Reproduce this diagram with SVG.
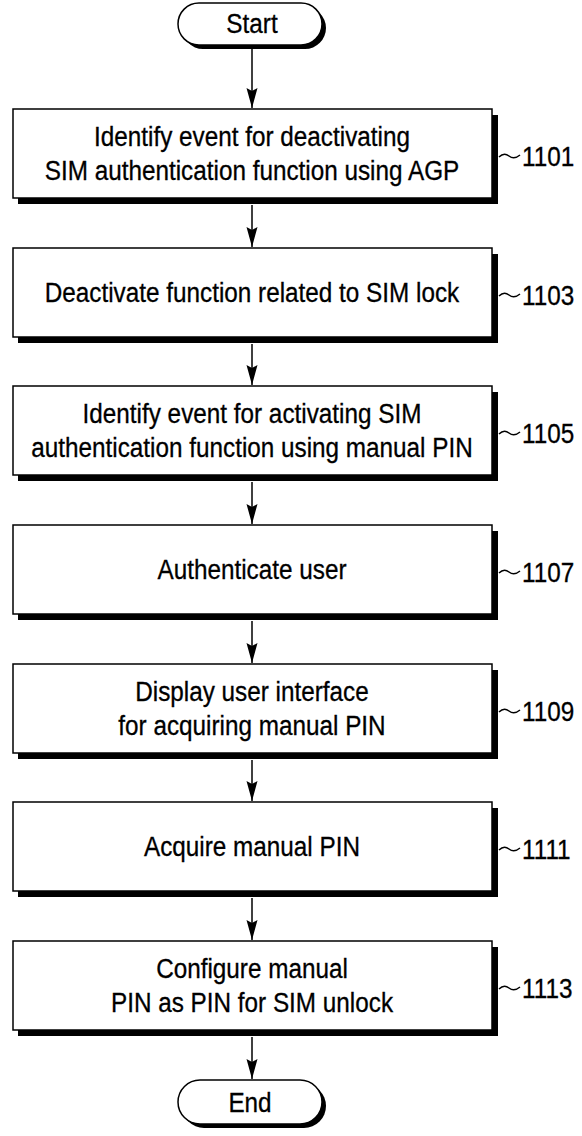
<svg xmlns="http://www.w3.org/2000/svg" width="582" height="1136" viewBox="0 0 582 1136">
<defs>
<style>
.box{fill:#fff;stroke:#000;stroke-width:1.5}
.sh{fill:#000}
.t{font-family:"Liberation Sans",Arial,sans-serif;font-size:27px;fill:#000;stroke:#000;stroke-width:0.3;text-anchor:middle;transform-box:fill-box;transform-origin:center;transform:scaleX(0.9)}
.lbl{font-family:"Liberation Sans",Arial,sans-serif;font-size:27px;fill:#000;stroke:#000;stroke-width:0.3;transform-box:fill-box;transform-origin:left;transform:scaleX(0.9)}
.ln{stroke:#000;stroke-width:1.5;fill:none}
</style>
<marker id="ah" markerWidth="20" markerHeight="12" refX="20" refY="6" orient="auto" markerUnits="userSpaceOnUse" viewBox="0 0 20 12">
<path d="M0,0.5 L20,6 L0,11.5 L3,6 Z" fill="#000"/>
</marker>
</defs>
<g id="connectors">
<line class="ln" x1="252" y1="48" x2="252" y2="108" marker-end="url(#ah)"/>
<line class="ln" x1="252" y1="205" x2="252" y2="247" marker-end="url(#ah)"/>
<line class="ln" x1="252" y1="344" x2="252" y2="385" marker-end="url(#ah)"/>
<line class="ln" x1="252" y1="482" x2="252" y2="524" marker-end="url(#ah)"/>
<line class="ln" x1="252" y1="621" x2="252" y2="663" marker-end="url(#ah)"/>
<line class="ln" x1="252" y1="760" x2="252" y2="801" marker-end="url(#ah)"/>
<line class="ln" x1="252" y1="898" x2="252" y2="940" marker-end="url(#ah)"/>
<line class="ln" x1="252" y1="1037" x2="252" y2="1079" marker-end="url(#ah)"/>
</g>
<g id="start">
<rect class="sh" x="182" y="7" width="144" height="42" rx="21"/>
<rect class="box" x="178" y="3" width="144" height="42" rx="21"/>
<text class="t" x="252" y="33">Start</text>
</g>
<g id="n1101">
<rect class="sh" x="18" y="115" width="480" height="89"/>
<rect class="box" x="13" y="109" width="479" height="89"/>
<text class="t" x="252" y="146">Identify event for deactivating</text>
<text class="t" x="252" y="180">SIM authentication function using AGP</text>
<path class="ln" d="M499,157 q5,-5 10,-1 t11,-1"/>
<text class="lbl" x="522" y="166">1101</text>
</g>
<g id="n1103">
<rect class="sh" x="18" y="254" width="480" height="89"/>
<rect class="box" x="13" y="248" width="479" height="89"/>
<text class="t" x="252" y="302">Deactivate function related to SIM lock</text>
<path class="ln" d="M499,296 q5,-5 10,-1 t11,-1"/>
<text class="lbl" x="522" y="305">1103</text>
</g>
<g id="n1105">
<rect class="sh" x="18" y="392" width="480" height="89"/>
<rect class="box" x="13" y="386" width="479" height="89"/>
<text class="t" x="252" y="423">Identify event for activating SIM</text>
<text class="t" x="252" y="457">authentication function using manual PIN</text>
<path class="ln" d="M499,434 q5,-5 10,-1 t11,-1"/>
<text class="lbl" x="522" y="443">1105</text>
</g>
<g id="n1107">
<rect class="sh" x="18" y="531" width="480" height="89"/>
<rect class="box" x="13" y="525" width="479" height="89"/>
<text class="t" x="252" y="579">Authenticate user</text>
<path class="ln" d="M499,573 q5,-5 10,-1 t11,-1"/>
<text class="lbl" x="522" y="582">1107</text>
</g>
<g id="n1109">
<rect class="sh" x="18" y="670" width="480" height="89"/>
<rect class="box" x="13" y="664" width="479" height="89"/>
<text class="t" x="252" y="701">Display user interface</text>
<text class="t" x="252" y="735">for acquiring manual PIN</text>
<path class="ln" d="M499,712 q5,-5 10,-1 t11,-1"/>
<text class="lbl" x="522" y="721">1109</text>
</g>
<g id="n1111">
<rect class="sh" x="18" y="808" width="480" height="89"/>
<rect class="box" x="13" y="802" width="479" height="89"/>
<text class="t" x="252" y="856">Acquire manual PIN</text>
<path class="ln" d="M499,850 q5,-5 10,-1 t11,-1"/>
<text class="lbl" x="522" y="859">1111</text>
</g>
<g id="n1113">
<rect class="sh" x="18" y="947" width="480" height="89"/>
<rect class="box" x="13" y="941" width="479" height="89"/>
<text class="t" x="252" y="978">Configure manual</text>
<text class="t" x="252" y="1012">PIN as PIN for SIM unlock</text>
<path class="ln" d="M499,989 q5,-5 10,-1 t11,-1"/>
<text class="lbl" x="522" y="998">1113</text>
</g>
<g id="end">
<rect class="sh" x="182" y="1084" width="144" height="44" rx="22"/>
<rect class="box" x="178" y="1080" width="144" height="44" rx="22"/>
<text class="t" x="250" y="1112">End</text>
</g>
</svg>
